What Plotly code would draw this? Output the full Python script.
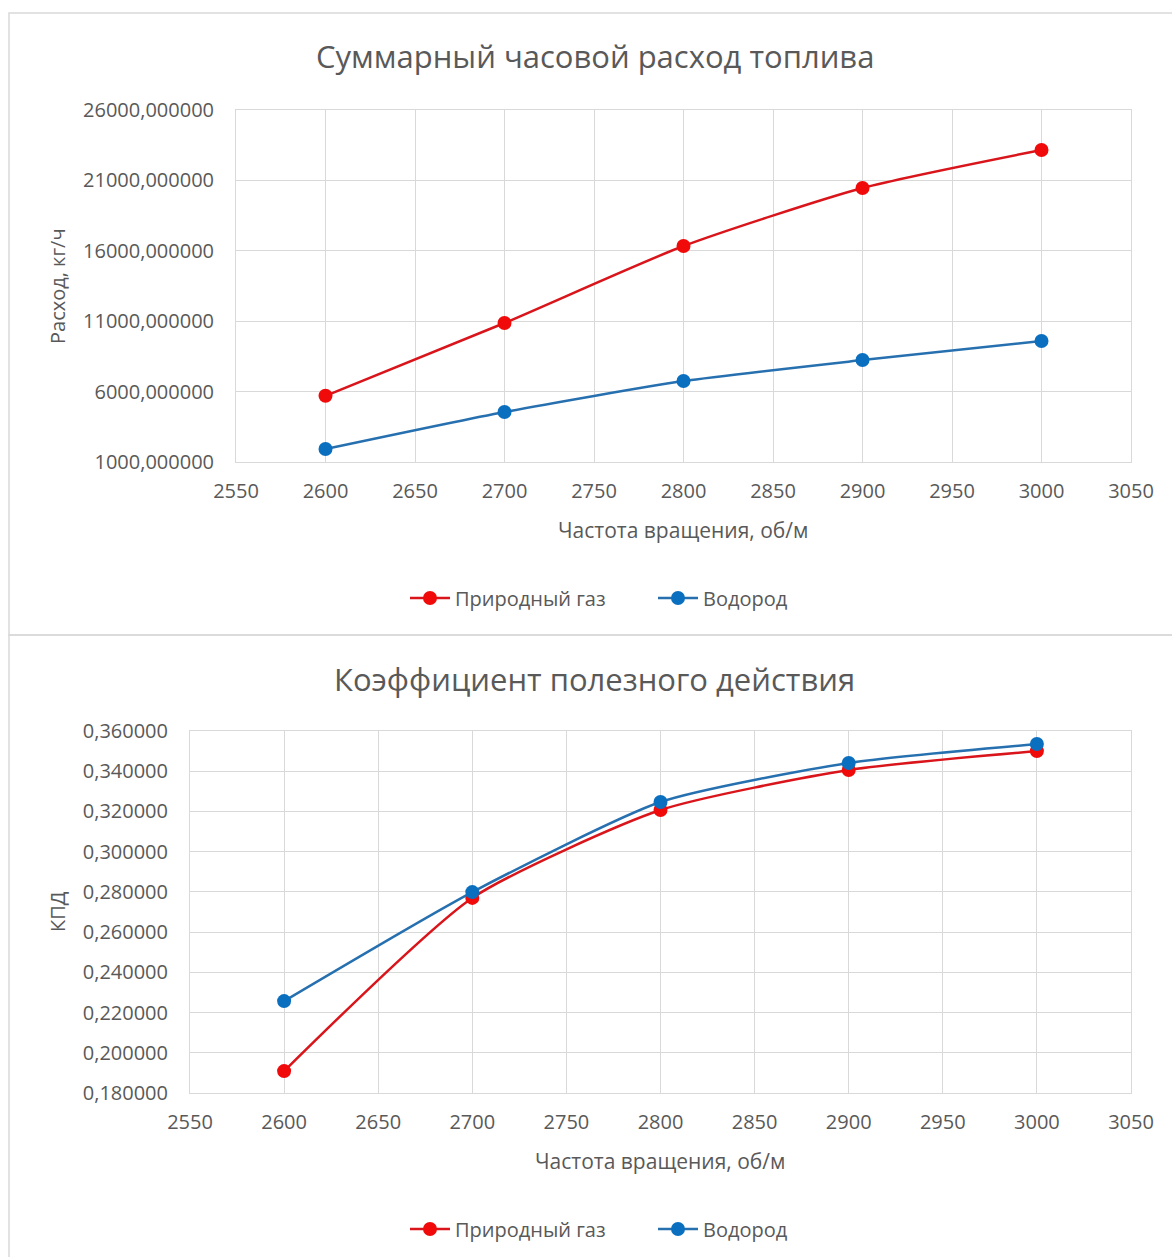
import plotly.graph_objects as go

rpm = [2600, 2700, 2800, 2900, 3000]

# Chart 1: total hourly fuel consumption, kg/h
gas_flow = [5700, 10870, 16340, 20460, 23160]
h2_flow = [1920, 4550, 6750, 8240, 9590]

# Chart 2: efficiency
gas_eff = [0.1909, 0.2770, 0.3207, 0.3406, 0.3500]
h2_eff = [0.2257, 0.2799, 0.3247, 0.3441, 0.3535]

series_names = ["Природный газ", "Водород"]
title1 = "Суммарный часовой расход топлива"
title2 = "Коэффициент полезного действия"
xtitle = "Частота вращения, об/м"
ytitle1 = "Расход, кг/ч"
ytitle2 = "КПД"

W, H = 1172, 1257
RED_LINE, RED_MK = "#D9151B", "#F00A0A"
BLUE_LINE, BLUE_MK = "#2770B0", "#0B6FC0"
GRID = "#D9D9D9"
TXT = "#595959"
FONT = "Open Sans"

def px_x(p):
    return p / W

def px_y(p):
    return 1 - p / H

fig = go.Figure()

def add(x, y, name, lc, mc, xa, ya, legend, show=True):
    fig.add_trace(go.Scatter(
        x=x, y=y, name=name, mode="lines+markers",
        line=dict(color=lc, width=2.5, shape="spline", smoothing=0.6),
        marker=dict(color=mc, size=14),
        xaxis=xa, yaxis=ya, legend=legend, showlegend=show,
    ))

add(rpm, gas_flow, series_names[0], RED_LINE, RED_MK, "x", "y", "legend")
add(rpm, h2_flow, series_names[1], BLUE_LINE, BLUE_MK, "x", "y", "legend")
add(rpm, gas_eff, series_names[0], RED_LINE, RED_MK, "x2", "y2", "legend2")
add(rpm, h2_eff, series_names[1], BLUE_LINE, BLUE_MK, "x2", "y2", "legend2")

axis_common = dict(
    showgrid=True, gridcolor=GRID, gridwidth=1,
    showline=True, linecolor=GRID, linewidth=1,
    zeroline=False, ticks="", automargin=False,
    tickfont=dict(family=FONT, size=20, color=TXT),
)
xax = dict(**axis_common, range=[2550, 3050], dtick=50, tick0=2550,
           mirror=True, ticklabelstandoff=11)
yax = dict(**axis_common, tickformat=".6f", mirror=True, ticklabelstandoff=17)

legend_common = dict(orientation="h", xanchor="center", yanchor="middle",
                     font=dict(family=FONT, size=20, color=TXT),
                     bgcolor="rgba(0,0,0,0)", entrywidth=193, itemwidth=40)

fig.update_layout(
    width=W, height=H,
    margin=dict(l=0, r=0, t=0, b=0, autoexpand=False),
    paper_bgcolor="white", plot_bgcolor="white",
    separators=", ",
    font=dict(family=FONT, color=TXT),
    xaxis=dict(**xax, domain=[px_x(236), px_x(1131)], anchor="y"),
    yaxis=dict(**yax, domain=[px_y(462), px_y(110)], range=[1000, 26000],
               dtick=5000, tick0=1000, anchor="x"),
    xaxis2=dict(**xax, domain=[px_x(190), px_x(1131)], anchor="y2"),
    yaxis2=dict(**yax, domain=[px_y(1093), px_y(731)], range=[0.18, 0.36],
                dtick=0.02, tick0=0.18, anchor="x2"),
    legend=dict(**legend_common, x=px_x(653), y=px_y(598)),
    legend2=dict(**legend_common, x=px_x(653), y=px_y(1229)),
    annotations=[
        dict(text=title1, x=px_x(595), y=px_y(56), xref="paper", yref="paper",
             showarrow=False, font=dict(family=FONT, size=31, color=TXT),
             xanchor="center", yanchor="middle"),
        dict(text=title2, x=px_x(595), y=px_y(679), xref="paper", yref="paper",
             showarrow=False, font=dict(family=FONT, size=31, color=TXT),
             xanchor="center", yanchor="middle"),
        dict(text=xtitle, x=px_x(683), y=px_y(530), xref="paper", yref="paper",
             showarrow=False, font=dict(family=FONT, size=21, color=TXT),
             xanchor="center", yanchor="middle"),
        dict(text=xtitle, x=px_x(660), y=px_y(1161), xref="paper", yref="paper",
             showarrow=False, font=dict(family=FONT, size=21, color=TXT),
             xanchor="center", yanchor="middle"),
        dict(text=ytitle1, x=px_x(57), y=px_y(286), xref="paper", yref="paper",
             showarrow=False, font=dict(family=FONT, size=20, color=TXT),
             textangle=-90, xanchor="center", yanchor="middle"),
        dict(text=ytitle2, x=px_x(57), y=px_y(912), xref="paper", yref="paper",
             showarrow=False, font=dict(family=FONT, size=20, color=TXT),
             textangle=-90, xanchor="center", yanchor="middle"),
    ],
    shapes=[
        dict(type="rect", xref="paper", yref="paper",
             x0=px_x(9), x1=px_x(1180), y0=px_y(635), y1=px_y(13),
             line=dict(color=GRID, width=1.5)),
        dict(type="rect", xref="paper", yref="paper",
             x0=px_x(9), x1=px_x(1180), y0=px_y(1262), y1=px_y(635),
             line=dict(color=GRID, width=1.5)),
    ],
)

fig.write_html("out.html", config={"displayModeBar": False},
               post_script="document.body.style.margin='0';")
